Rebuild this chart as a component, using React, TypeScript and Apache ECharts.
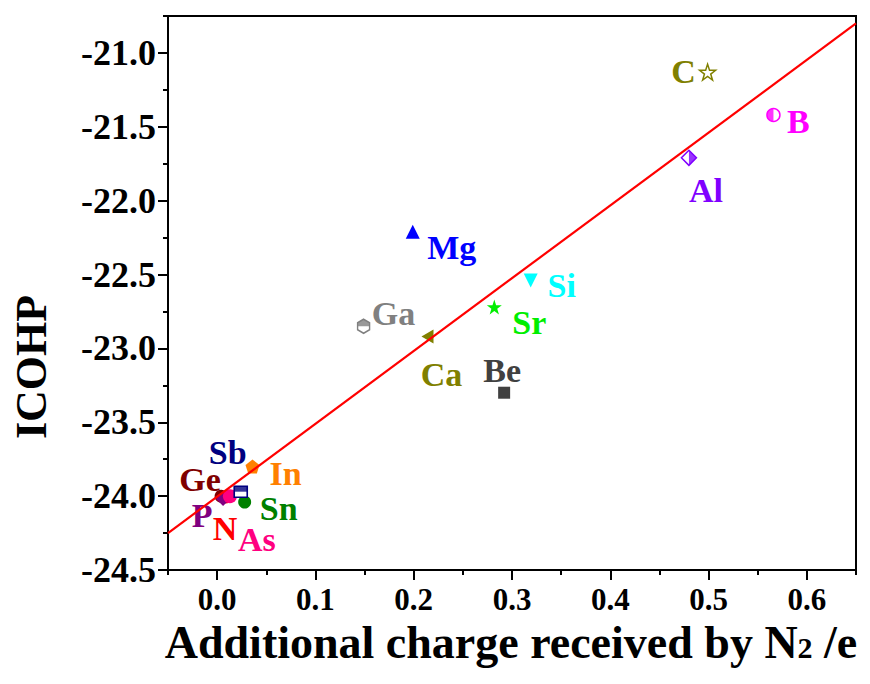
import React, { useEffect, useRef } from 'react';
import * as echarts from 'echarts';

// ---- data ----
const elements = ['Ge', 'N', 'P', 'As', 'Sn', 'Sb', 'In', 'Be', 'Ca', 'Ga', 'Sr', 'Si', 'Mg', 'Al', 'B', 'C'];
const charge = [0.004, 0.009, 0.006, 0.013, 0.028, 0.024, 0.036, 0.292, 0.214, 0.149, 0.282, 0.319, 0.199, 0.480, 0.566, 0.499];
const icohp = [-24.0, -24.01, -24.02, -24.0, -24.04, -23.97, -23.8, -23.3, -22.92, -22.85, -22.72, -22.54, -22.21, -21.71, -21.42, -21.13];
const fitX = [-0.05, 0.65];
const fitY = [-24.25, -20.8];
const xMajorTicks = [0, 0.1, 0.2, 0.3, 0.4, 0.5, 0.6];
const xMinorTicks = [-0.05, 0.05, 0.15, 0.25, 0.35, 0.45, 0.55, 0.65];
const yMajorTicks = [-24.5, -24.0, -23.5, -23.0, -22.5, -22.0, -21.5, -21.0];
const yMinorTicks = [-24.25, -23.75, -23.25, -22.75, -22.25, -21.75, -21.25, -20.75];

// ---- shapes ----
const polyPath = (n: number, rOuter: number, rInner: number | null) => {
  const pts: string[] = [];
  const count = rInner == null ? n : n * 2;
  for (let i = 0; i < count; i++) {
    const r = rInner == null ? rOuter : i % 2 === 0 ? rOuter : rInner;
    const a = -Math.PI / 2 + (i * 2 * Math.PI) / count;
    pts.push((i === 0 ? 'M' : 'L') + (10 + r * Math.cos(a)).toFixed(2) + ',' + (10 + r * Math.sin(a)).toFixed(2));
  }
  return 'path://' + pts.join(' ') + ' Z';
};
const STAR = polyPath(5, 10, 3.9);
const PENTAGON = polyPath(5, 10, null);
const HEXAGON = 'path://M8.66,0 L17.32,5 L17.32,15 L8.66,20 L0,15 L0,5 Z';
const HEX_TOP = 'path://M0,10 L0,5 L8.66,0 L17.32,5 L17.32,10 Z';
const TRI_LEFT = 'path://M0,10 L17,0 L17,20 Z';
const HALF_CIRCLE_LEFT = 'path://M10,0 A10,10 0 0,0 10,20 Z';
const HALF_DIAMOND_RIGHT = 'path://M0,0 L10,10 L0,20 Z';

type Sty = {
  color: string;
  symbol: string;
  size: number | number[];
  rotate?: number;
  hollow?: boolean;
  half?: { symbol: string; size: number[]; offset: number[] };
  label: number[];
};

const styles: Record<string, Sty> = {
  C: { color: '#808000', symbol: STAR, size: 16, hollow: true, label: [-24, -1] },
  B: { color: '#ff00ff', symbol: 'circle', size: 13, hollow: true, half: { symbol: HALF_CIRCLE_LEFT, size: [6.5, 13], offset: [-3.25, 0] }, label: [25, 7] },
  Al: { color: '#8000ff', symbol: 'diamond', size: 15, hollow: true, half: { symbol: HALF_DIAMOND_RIGHT, size: [7.5, 15], offset: [3.75, 0] }, label: [17, 33] },
  Mg: { color: '#0000ff', symbol: 'triangle', size: 14, label: [39, 16] },
  Si: { color: '#00ffff', symbol: 'triangle', size: 14, rotate: 180, label: [31, 5] },
  Sr: { color: '#00ee00', symbol: STAR, size: 15, label: [35, 15] },
  Ga: { color: '#808080', symbol: HEXAGON, size: [12, 14], hollow: true, half: { symbol: HEX_TOP, size: [12, 7], offset: [0, -3.5] }, label: [30, -13] },
  Ca: { color: '#808000', symbol: TRI_LEFT, size: [12, 14], label: [14, 38] },
  Be: { color: '#404040', symbol: 'rect', size: 12, label: [-2, -22] },
  In: { color: '#ff8000', symbol: PENTAGON, size: 14, label: [33, 7] },
  Sb: { color: '#000080', symbol: 'rect', size: [13, 11], hollow: true, half: { symbol: 'rect', size: [13, 5.5], offset: [0, -2.75] }, label: [-13, -39] },
  Sn: { color: '#008000', symbol: 'circle', size: 13, label: [34, 6] },
  Ge: { color: '#800000', symbol: 'circle', size: 13, label: [-21, -17] },
  N: { color: '#ff0000', symbol: 'circle', size: 12, label: [-1, 31] },
  P: { color: '#800080', symbol: 'diamond', size: 14, label: [-21, 16] },
  As: { color: '#ff0080', symbol: 'circle', size: 14, label: [27, 43] },
};

const FONT = '"Liberation Serif", "Times New Roman", serif';

export default function App() {
  const ref = useRef<HTMLDivElement>(null);
  useEffect(() => {
    if (!ref.current) return;
    const chart = echarts.init(ref.current, undefined, { renderer: 'svg' });

    const series: any[] = [];
    elements.forEach((el, i) => {
      const s = styles[el];
      const point = [charge[i], icohp[i]];
      series.push({
        type: 'scatter',
        name: el,
        data: [point],
        symbol: s.symbol,
        symbolSize: s.size,
        symbolRotate: s.rotate || 0,
        silent: true,
        z: 3,
        itemStyle: {
          color: s.hollow ? '#ffffff' : s.color,
          borderColor: s.color,
          borderWidth: s.hollow ? 1.5 : 0,
          opacity: 1,
        },
        label: {
          show: true,
          formatter: el,
          position: 'inside',
          offset: s.label,
          color: s.color,
          fontSize: 34,
          lineHeight: 28,
          fontWeight: 'bold',
          fontFamily: FONT,
          textBorderWidth: 0,
          align: 'center',
          verticalAlign: 'middle',
        },
      });
      if (s.half) {
        series.push({
          type: 'scatter',
          name: el + '-fill',
          data: [point],
          symbol: s.half.symbol,
          symbolSize: s.half.size,
          symbolOffset: s.half.offset,
          silent: true,
          z: 4,
          itemStyle: { color: s.color, borderWidth: 0 },
          label: { show: false },
        });
      }
    });
    series.push({
      type: 'line',
      name: 'fit',
      data: fitX.map((x, i) => [x, fitY[i]]),
      symbol: 'none',
      silent: true,
      z: 5,
      lineStyle: { color: '#ff0000', width: 2.2 },
    });

    const tickLine = { color: '#000', width: 2 };
    const xLabelStyle = { fontSize: 31, lineHeight: 32, fontWeight: 'bold', fontFamily: FONT, color: '#000' };
    const yLabelStyle = { fontSize: 36, fontWeight: 'bold', fontFamily: FONT, color: '#000' };

    chart.setOption({
      animation: false,
      backgroundColor: '#ffffff',
      grid: {
        left: 168,
        right: 14,
        top: 16,
        bottom: 114,
        show: true,
        borderColor: '#000',
        borderWidth: 2,
        backgroundColor: 'transparent',
        containLabel: false,
      },
      xAxis: [
        {
          type: 'value',
          min: -0.05,
          max: 0.65,
          position: 'bottom',
          axisLine: { show: true, onZero: false, lineStyle: tickLine },
          axisTick: { show: true, customValues: xMajorTicks, length: 10, inside: false, lineStyle: tickLine },
          axisLabel: { ...xLabelStyle, customValues: xMajorTicks, margin: 13, formatter: (v: number) => v.toFixed(1) },
          splitLine: { show: false },
        },
        {
          type: 'value',
          min: -0.05,
          max: 0.65,
          position: 'bottom',
          offset: 0,
          axisLine: { show: false, onZero: false },
          axisTick: { show: true, customValues: xMinorTicks, length: 5, inside: false, lineStyle: tickLine },
          axisLabel: { show: false },
          splitLine: { show: false },
        },
      ],
      yAxis: [
        {
          type: 'value',
          min: -24.5,
          max: -20.75,
          position: 'left',
          axisLine: { show: true, onZero: false, lineStyle: tickLine },
          axisTick: { show: true, customValues: yMajorTicks, length: 10, inside: false, lineStyle: tickLine },
          axisLabel: { ...yLabelStyle, customValues: yMajorTicks, margin: 12, formatter: (v: number) => v.toFixed(1) },
          splitLine: { show: false },
        },
        {
          type: 'value',
          min: -24.5,
          max: -20.75,
          position: 'left',
          offset: 0,
          axisLine: { show: false, onZero: false },
          axisTick: { show: true, customValues: yMinorTicks, length: 5, inside: false, lineStyle: tickLine },
          axisLabel: { show: false },
          splitLine: { show: false },
        },
      ],
      graphic: [
        {
          type: 'text',
          x: 31,
          y: 367,
          rotation: Math.PI / 2,
          style: {
            text: 'ICOHP',
            font: 'bold 44px ' + FONT,
            fill: '#000',
            textAlign: 'center',
            textVerticalAlign: 'middle',
          },
        },
        {
          type: 'text',
          x: 511,
          y: 642,
          style: {
            text: '{b|Additional charge received by N}{s|2}{b| /e}',
            textAlign: 'center',
            textVerticalAlign: 'middle',
            rich: {
              b: { fontSize: 46, lineHeight: 40, fontWeight: 'bold', fontFamily: FONT, fill: '#000', verticalAlign: 'middle' },
              s: { fontSize: 30, lineHeight: 40, fontWeight: 'bold', fontFamily: FONT, fill: '#000', verticalAlign: 'bottom' },
            },
          },
        },
      ],
      series,
    });
    return () => chart.dispose();
  }, []);
  return <div ref={ref} style={{ position: 'fixed', left: 0, top: 0, width: 870, height: 684 }} />;
}
